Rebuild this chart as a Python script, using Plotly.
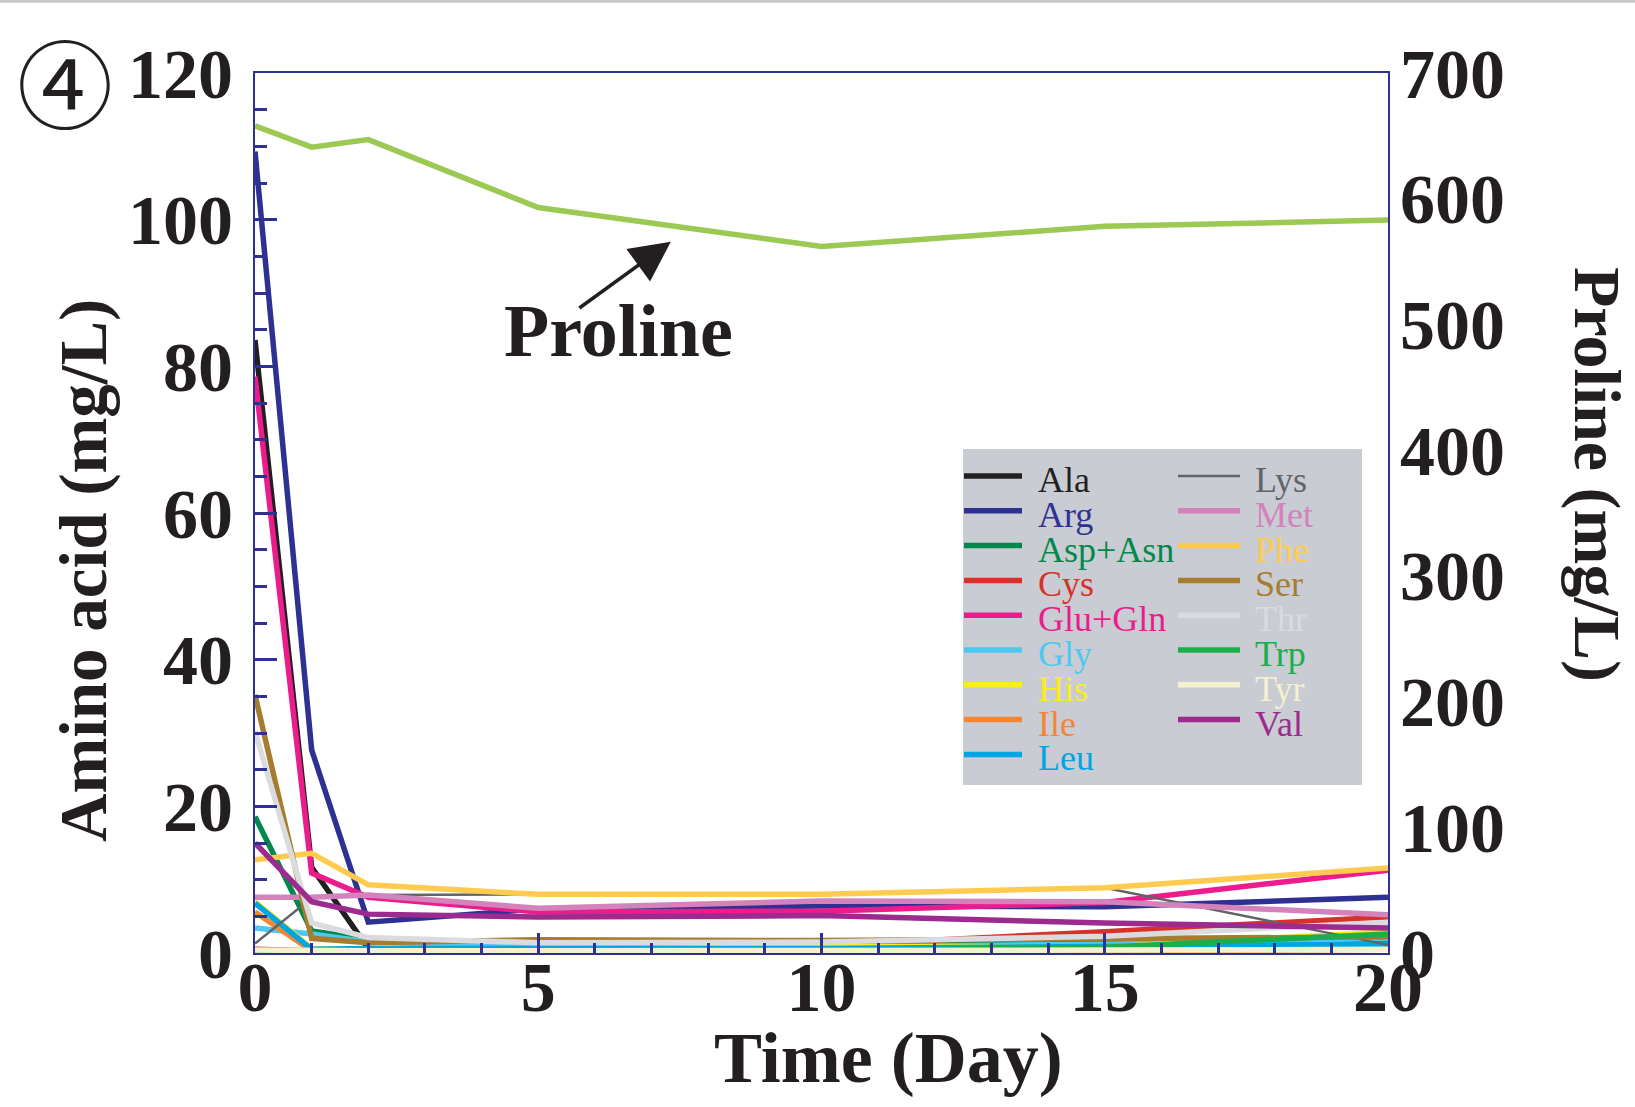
import plotly.graph_objects as go

# Sampling days
days = [0, 1, 2, 5, 10, 15, 20]

# Amino acid concentrations (mg/L), left axis
ala = [83.6, 11.7, 0.6, 0.5, 0.5, 0.5, 0.6]
arg = [109.3, 27.7, 4.2, 6.0, 6.4, 6.3, 7.6]
asp_asn = [18.6, 3.0, 1.8, 1.5, 1.4, 1.5, 1.6]
cys = [0.5, 0.3, 0.5, 0.7, 1.0, 2.9, 4.9]
glu_gln = [78.6, 10.9, 7.6, 5.6, 5.7, 6.9, 11.3]
gly = [3.4, 2.6, 1.5, 0.8, 0.8, 1.2, 2.0]
his = [7.0, 0.6, 0.4, 0.4, 0.9, 0.8, 2.9]
ile = [5.6, 0.3, 0.2, 0.2, 0.2, 0.3, 0.5]
leu = [6.8, 0.5, 0.6, 0.6, 0.6, 0.9, 1.2]
lys = [1.3, 7.5, 7.9, 8.0, 8.0, 8.9, 1.1]
met = [7.6, 7.6, 7.9, 6.1, 7.1, 7.0, 5.2]
phe = [12.7, 13.6, 9.3, 8.0, 8.0, 8.9, 11.6]
ser = [35.2, 2.0, 1.4, 1.8, 1.7, 1.9, 2.2]
thr = [30.2, 4.1, 2.1, 1.4, 1.5, 2.3, 4.2]
trp = [0.2, 0.2, 0.2, 0.2, 0.3, 0.8, 2.6]
tyr = [0.4, 0.3, 0.3, 0.3, 0.3, 0.4, 0.5]
val = [15.0, 7.0, 5.3, 4.9, 5.1, 4.1, 3.4]

# Proline (mg/L), right axis
proline = [658, 641, 647, 593, 562, 578, 583]

names = ["Ala", "Arg", "Asp+Asn", "Cys", "Glu+Gln", "Gly", "His", "Ile", "Leu",
         "Lys", "Met", "Phe", "Ser", "Thr", "Trp", "Tyr", "Val"]
series = [ala, arg, asp_asn, cys, glu_gln, gly, his, ile, leu,
          lys, met, phe, ser, thr, trp, tyr, val]
colors = ["#231f20", "#2e3192", "#00894a", "#d7312a", "#ec1c8c", "#4ec8f0",
          "#fbec1f", "#f58634", "#00a6e4", "#5f6468", "#d382bb", "#ffcb4f",
          "#a67c2e", "#d9dbde", "#1aaf4b", "#f4f1cf", "#9c2a8f"]
widths = [5.5] * len(names)
widths[names.index("Lys")] = 2.4

proline_color = "#9bc953"
axis_color = "#2e3192"
text_color = "#231f20"
serif = "Liberation Serif"

# Figure geometry (pixels)
W, H = 1635, 1107
PL, PR, PT, PB = 255, 1388, 73, 953


def px(x):
    return (x - PL) / (PR - PL)


def py(y):
    return (PB - y) / (PB - PT)


fig = go.Figure()

for name, vals, col, w in zip(names, series, colors, widths):
    fig.add_trace(go.Scatter(x=days, y=vals, name=name, mode="lines",
                             line=dict(color=col, width=w), showlegend=False))

fig.add_trace(go.Scatter(x=days, y=proline, name="Proline", mode="lines",
                         line=dict(color=proline_color, width=5.5),
                         yaxis="y2", showlegend=False))

tick_font = dict(family=serif, size=70, color=text_color, weight="bold")

fig.update_layout(
    width=W, height=H,
    margin=dict(l=PL, r=W - PR, t=PT, b=H - PB),
    paper_bgcolor="white", plot_bgcolor="white",
    xaxis=dict(range=[0, 20], tickvals=[0, 5, 10, 15, 20],
               ticks="inside", ticklen=20, tickwidth=2.5, tickcolor=axis_color,
               minor=dict(dtick=1, ticks="inside", ticklen=10, tickwidth=2.5,
                          tickcolor=axis_color),
               showline=True, linecolor=axis_color, linewidth=2, mirror=True,
               showgrid=False, zeroline=False, tickfont=tick_font,
               ticklabelstandoff=-28),
    yaxis=dict(range=[0, 120], tickvals=[0, 20, 40, 60, 80, 100, 120],
               ticks="inside", ticklen=22, tickwidth=2.5, tickcolor=axis_color,
               minor=dict(dtick=5, ticks="inside", ticklen=12, tickwidth=2.5,
                          tickcolor=axis_color),
               showline=True, linecolor=axis_color, linewidth=2,
               showgrid=False, zeroline=False, tickfont=tick_font,
               ticklabelstandoff=6),
    yaxis2=dict(range=[0, 700], tickvals=list(range(0, 701, 100)),
                overlaying="y", side="right", ticks="",
                showline=True, linecolor=axis_color, linewidth=2,
                showgrid=False, zeroline=False, tickfont=tick_font,
                ticklabelstandoff=-4),
)

annotations = [
    # panel marker
    dict(x=px(65), y=py(80), xref="paper", yref="paper", text="④",
         showarrow=False, xanchor="center", yanchor="middle",
         font=dict(family="Noto Sans CJK SC", size=96, color=text_color)),
    # axis titles
    dict(x=px(83), y=py(571), xref="paper", yref="paper", text="Amino acid (mg/L)",
         textangle=-90, showarrow=False, xanchor="center", yanchor="middle",
         font=dict(family=serif, size=67, color=text_color, weight="bold")),
    dict(x=px(1597), y=py(474), xref="paper", yref="paper", text="Proline (mg/L)",
         textangle=90, showarrow=False, xanchor="center", yanchor="middle",
         font=dict(family=serif, size=66, color=text_color, weight="bold")),
    dict(x=px(888), y=py(1058), xref="paper", yref="paper", text="Time (Day)",
         showarrow=False, xanchor="center", yanchor="middle",
         font=dict(family=serif, size=72, color=text_color, weight="bold")),
    # Proline label and pointer
    dict(x=px(618), y=py(331), xref="paper", yref="paper", text="Proline",
         showarrow=False, xanchor="center", yanchor="middle",
         font=dict(family=serif, size=74, color=text_color, weight="bold")),
    dict(x=7.34, y=97.0, xref="x", yref="y", ax=5.70, ay=87.8,
         axref="x", ayref="y", text="", showarrow=True, arrowhead=2,
         arrowsize=2.3, arrowwidth=3.5, arrowcolor=text_color,
         standoff=0, startstandoff=0),
]

shapes = [
    # thin rule along the top edge of the page
    dict(type="line", xref="paper", yref="paper", x0=px(0), x1=px(W),
         y0=py(1.2), y1=py(1.2), line=dict(color="#c8c8c8", width=3)),
    # legend panel
    dict(type="rect", xref="paper", yref="paper", x0=px(963), x1=px(1362),
         y0=py(449), y1=py(785), fillcolor="#c9ccd3", line=dict(width=0),
         layer="above"),
]

# Two-column legend keys
row_gap = 34.8
for i, (name, col, w) in enumerate(zip(names, colors, widths)):
    if i < 9:
        c, r = 0, i
    else:
        c, r = 1, i - 9
    yl = 476 + r * row_gap
    x0, x1, xt = (964, 1022, 1036) if c == 0 else (1178, 1240, 1253)
    shapes.append(dict(type="line", xref="paper", yref="paper",
                       x0=px(x0), x1=px(x1), y0=py(yl), y1=py(yl),
                       line=dict(color=col, width=w), layer="above"))
    annotations.append(dict(x=px(xt), y=py(yl + 4), xref="paper", yref="paper",
                            text=name, showarrow=False, xanchor="left",
                            yanchor="middle",
                            font=dict(family=serif, size=36, color=col)))

fig.update_layout(annotations=annotations, shapes=shapes)

fig.write_html("out.html")
